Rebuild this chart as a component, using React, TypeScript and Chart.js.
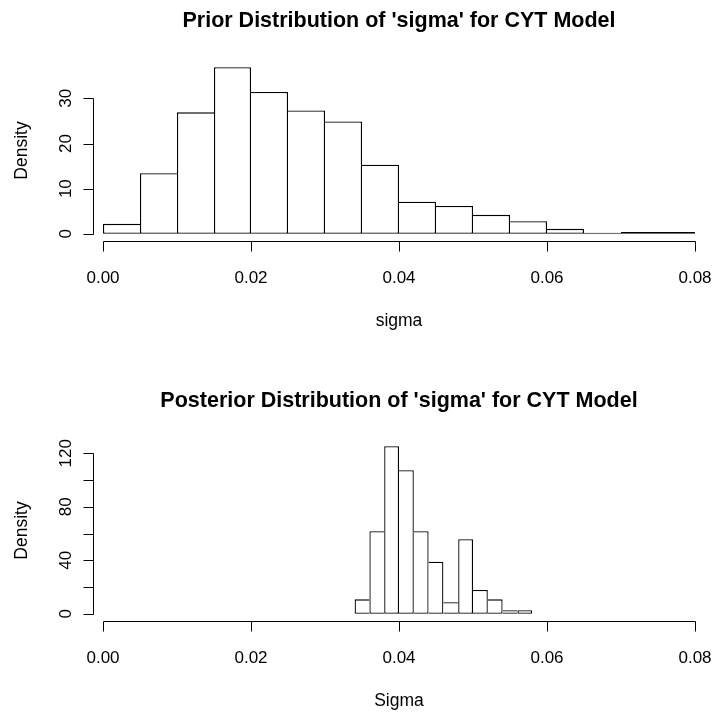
import React, { useEffect, useRef } from "react";
import { Chart, registerables } from "chart.js";

Chart.register(...registerables);

// ---- Data ----
const PRIOR_EDGES = [0, 0.005, 0.01, 0.015, 0.02, 0.025, 0.03, 0.035, 0.04, 0.045, 0.05, 0.055, 0.06, 0.065, 0.07, 0.075, 0.08];
const PRIOR_DENSITY = [2.2, 13.4, 26.9, 36.9, 31.4, 27.3, 24.9, 15.3, 7.1, 6.15, 4.2, 2.8, 1.1, 0.25, 0.4, 0.4];

const POST_EDGES = [0.034, 0.036, 0.038, 0.04, 0.042, 0.044, 0.046, 0.048, 0.05, 0.052, 0.054, 0.056, 0.058];
const POST_DENSITY = [10.8, 61.7, 125.2, 107.3, 61.7, 39.0, 8.6, 55.7, 17.8, 10.8, 2.6, 2.6];

const X_TICKS = [0, 0.02, 0.04, 0.06, 0.08];
const X_TICK_LABELS = ["0.00", "0.02", "0.04", "0.06", "0.08"];

const PRIOR_Y_TICKS = [0, 10, 20, 30];
const PRIOR_Y_LABELS = ["0", "10", "20", "30"];

const POST_Y_TICKS = [0, 20, 40, 60, 80, 100, 120];
const POST_Y_LABELS = ["0", "", "40", "", "80", "", "120"];

const PRIOR_TITLE = "Prior Distribution of 'sigma' for CYT Model";
const POST_TITLE = "Posterior Distribution of 'sigma' for CYT Model";
const PRIOR_XLABEL = "sigma";
const POST_XLABEL = "Sigma";
const Y_LABEL = "Density";

const FONT = '"Liberation Sans", Arial, Helvetica, sans-serif';

const rAxesPlugin = {
  id: "rAxes",
  afterDraw(chart: any) {
    const o = chart.options.plugins.rAxes;
    if (!o) return;
    const { ctx } = chart;
    const xs = chart.scales.x;
    const ys = chart.scales.y;
    ctx.save();
    ctx.strokeStyle = "#000";
    ctx.fillStyle = "#000";
    ctx.lineWidth = 1;

    // x axis
    const axY = Math.round(ys.getPixelForValue(0) + 7) + 0.5;
    const px0 = Math.round(xs.getPixelForValue(o.xTicks[0])) + 0.5;
    const px1 = Math.round(xs.getPixelForValue(o.xTicks[o.xTicks.length - 1])) + 0.5;
    ctx.beginPath();
    ctx.moveTo(px0, axY);
    ctx.lineTo(px1, axY);
    o.xTicks.forEach((t: number) => {
      const p = Math.round(xs.getPixelForValue(t)) + 0.5;
      ctx.moveTo(p, axY);
      ctx.lineTo(p, axY + 10);
    });
    ctx.stroke();
    ctx.font = `17px ${FONT}`;
    ctx.textAlign = "center";
    ctx.textBaseline = "alphabetic";
    o.xTicks.forEach((t: number, i: number) => {
      ctx.fillText(o.xLabels[i], xs.getPixelForValue(t), axY + 41.5);
    });
    const cx = (xs.getPixelForValue(o.xTicks[0]) + xs.getPixelForValue(o.xTicks[o.xTicks.length - 1])) / 2;
    ctx.font = `17.5px ${FONT}`;
    ctx.fillText(o.xTitle, cx, axY + 84);

    // title
    ctx.font = `bold 21.5px ${FONT}`;
    ctx.fillText(o.title, cx, axY - 215);

    // y axis
    const axX = Math.round(xs.getPixelForValue(0) - 10) + 0.5;
    const py0 = Math.round(ys.getPixelForValue(o.yTicks[0])) + 0.5;
    const py1 = Math.round(ys.getPixelForValue(o.yTicks[o.yTicks.length - 1])) + 0.5;
    ctx.beginPath();
    ctx.moveTo(axX, py0);
    ctx.lineTo(axX, py1);
    o.yTicks.forEach((t: number) => {
      const p = Math.round(ys.getPixelForValue(t)) + 0.5;
      ctx.moveTo(axX, p);
      ctx.lineTo(axX - 10, p);
    });
    ctx.stroke();
    ctx.font = `17px ${FONT}`;
    o.yTicks.forEach((t: number, i: number) => {
      const lab = o.yLabels[i];
      if (!lab) return;
      ctx.save();
      ctx.translate(axX - 22.3, ys.getPixelForValue(t));
      ctx.rotate(-Math.PI / 2);
      ctx.fillText(lab, 0, 0);
      ctx.restore();
    });
    ctx.font = `17.5px ${FONT}`;
    ctx.save();
    ctx.translate(27, axY - 91);
    ctx.rotate(-Math.PI / 2);
    ctx.fillText(o.yTitle, 0, 0);
    ctx.restore();

    ctx.restore();
  },
};

function makeConfig(
  edges: number[],
  density: number[],
  yMax: number,
  padding: { left: number; right: number; top: number; bottom: number },
  title: string,
  xTitle: string,
  yTicks: number[],
  yLabels: string[]
): any {
  const data = density.map((d, i) => ({ x: (edges[i] + edges[i + 1]) / 2, y: d }));
  const bw = 1.3;
  return {
    type: "bar",
    data: {
      datasets: [
        {
          data,
          backgroundColor: "#ffffff",
          borderColor: "#000000",
          borderSkipped: false,
          inflateAmount: 0,
          clip: false,
          barPercentage: 1,
          categoryPercentage: 1,
          borderWidth: (c: any) => {
            const i = c.dataIndex;
            const cur = density[i];
            const prev = i > 0 ? density[i - 1] : -1;
            const next = i < density.length - 1 ? density[i + 1] : -1;
            return {
              top: bw,
              bottom: bw,
              left: prev <= cur ? bw : 0,
              right: next < cur ? bw : 0,
            };
          },
        },
      ],
    },
    options: {
      responsive: false,
      animation: false,
      devicePixelRatio: 1,
      layout: { padding },
      plugins: {
        legend: { display: false },
        tooltip: { enabled: false },
        title: { display: false },
        rAxes: {
          title,
          xTitle,
          yTitle: Y_LABEL,
          xTicks: X_TICKS,
          xLabels: X_TICK_LABELS,
          yTicks,
          yLabels,
        },
      },
      scales: {
        x: {
          type: "linear",
          min: X_TICKS[0],
          max: X_TICKS[X_TICKS.length - 1],
          offset: false,
          display: false,
          grid: { offset: false },
        },
        y: {
          type: "linear",
          min: 0,
          max: yMax,
          display: false,
        },
      },
    },
    plugins: [rAxesPlugin],
  };
}

function Hist(props: { config: any }) {
  const ref = useRef<HTMLCanvasElement>(null);
  useEffect(() => {
    const chart = new Chart(ref.current as HTMLCanvasElement, props.config);
    return () => chart.destroy();
  }, []);
  return <canvas ref={ref} width={715} height={356} style={{ display: "block", width: 715, height: 356 }} />;
}

export default function App() {
  const top = makeConfig(
    PRIOR_EDGES,
    PRIOR_DENSITY,
    40,
    { left: 103, right: 20, top: 53.2, bottom: 122.2 },
    PRIOR_TITLE,
    PRIOR_XLABEL,
    PRIOR_Y_TICKS,
    PRIOR_Y_LABELS
  );
  const bottom = makeConfig(
    POST_EDGES,
    POST_DENSITY,
    130,
    { left: 103, right: 20, top: 83.9, bottom: 98.2 },
    POST_TITLE,
    POST_XLABEL,
    POST_Y_TICKS,
    POST_Y_LABELS
  );
  return (
    <div style={{ position: "absolute", left: 0, top: 0, width: 715, height: 712, background: "#fff" }}>
      <Hist config={top} />
      <Hist config={bottom} />
    </div>
  );
}
